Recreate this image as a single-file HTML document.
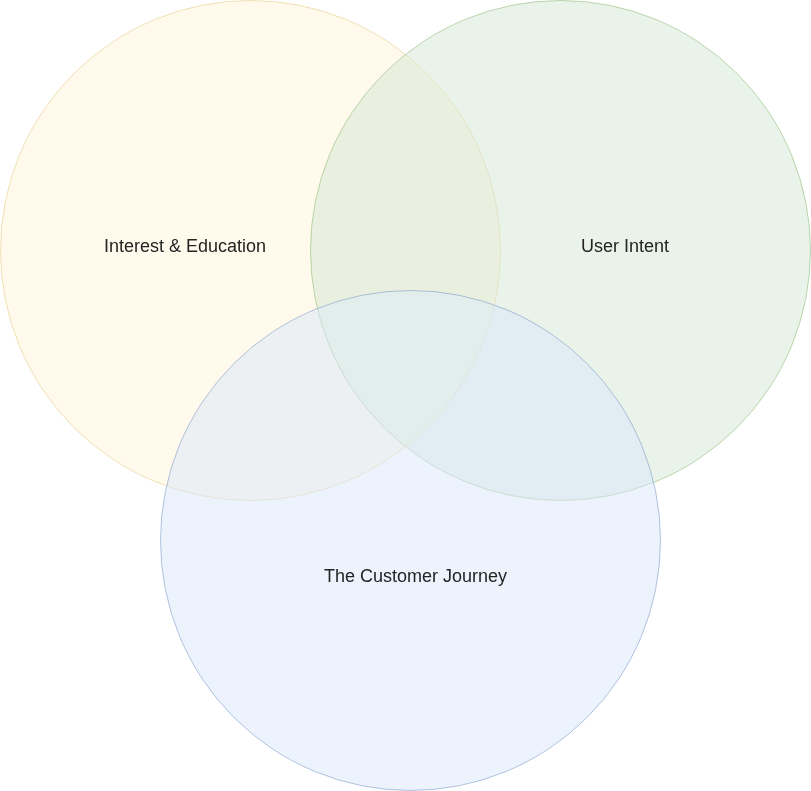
<!DOCTYPE html>
<html lang="en">
<head>
<meta charset="utf-8">
<title>Venn Diagram</title>
<style>
  html, body { margin: 0; padding: 0; background: #ffffff; }
  body { width: 811px; height: 791px; overflow: hidden; position: relative; }
  #stage { position: absolute; left: 0; top: 0; width: 811px; height: 791px; will-change: transform; }
  svg { position: absolute; left: 0; top: 0; display: block; }
  .lbl {
    position: absolute;
    font-family: "Liberation Sans", Helvetica, Arial, sans-serif;
    font-size: 18px;
    line-height: 1.2;
    color: #242424;
    white-space: nowrap;
    transform: translate(-50%, -50%);
  }
</style>
</head>
<body>
<div id="stage">
<svg width="811" height="791" viewBox="-0.5 -0.5 811 791">
  <ellipse cx="250" cy="250" rx="250" ry="250" fill="#fff2cc" stroke="#d6b656" fill-opacity="0.4" stroke-opacity="0.4"/>
  <ellipse cx="560" cy="250" rx="250" ry="250" fill="#d5e8d4" stroke="#82b366" fill-opacity="0.5" stroke-opacity="0.5"/>
  <ellipse cx="410" cy="540" rx="250" ry="250" fill="#dae8fc" stroke="#6c8ebf" fill-opacity="0.5" stroke-opacity="0.5"/>
  <!-- slight tint correction where all three circles overlap -->
  <defs>
    <clipPath id="inG"><circle cx="560" cy="250" r="249.5"/></clipPath>
    <clipPath id="inYG"><circle cx="250" cy="250" r="249.5" clip-path="url(#inG)"/></clipPath>
  </defs>
  <circle cx="410" cy="540" r="249.5" fill="#e2f9e5" fill-opacity="0.12" clip-path="url(#inYG)"/>
</svg>
<div class="lbl" style="left:185px; top:246.5px;">Interest &amp; Education</div>
<div class="lbl" style="left:625px; top:246.5px;">User Intent</div>
<div class="lbl" style="left:415.5px; top:576.5px;">The Customer Journey</div>
</div>
</body>
</html>
